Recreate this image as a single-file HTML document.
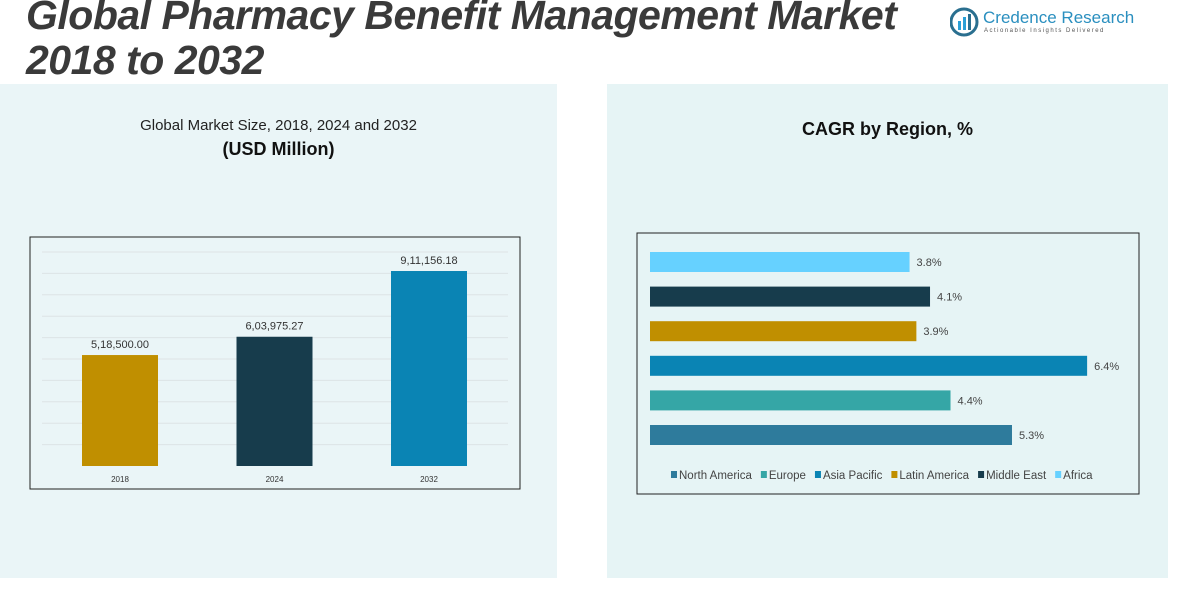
<!DOCTYPE html>
<html><head><meta charset="utf-8"><style>
body{margin:0;width:1187px;height:597px;background:#fff;position:relative;overflow:hidden;font-family:"Liberation Sans",sans-serif}
.abs{position:absolute}
</style></head><body>
<div class="abs" style="left:0;top:84px;width:557px;height:494px;background:#eaf5f7"></div>
<div class="abs" style="left:607px;top:84px;width:561px;height:494px;background:#e6f4f5"></div>
<div class="abs" style="left:26px;top:-7px;font-size:41px;font-weight:bold;font-style:italic;color:#3a3a3a;line-height:45px;letter-spacing:-0.5px;white-space:nowrap">Global Pharmacy Benefit Management Market<br>2018 to 2032</div>
<div class="abs" style="left:950px;top:7px;width:190px;height:30px">
<svg width="30" height="30" style="position:absolute;left:0;top:0"><circle cx="14" cy="15" r="13" fill="none" stroke="#2a6f8f" stroke-width="3"/><rect x="8" y="14" width="3" height="9" fill="#2a9fd6"/><rect x="13" y="10" width="3" height="13" fill="#2a9fd6"/><rect x="18" y="7" width="3" height="16" fill="#2a6f8f"/></svg>
<div style="position:absolute;left:33px;top:1px;font-size:17px;color:#2a8fbf;white-space:nowrap">Credence Research</div>
<div style="position:absolute;left:34px;top:21px;font-size:6px;letter-spacing:1.5px;color:#555;white-space:nowrap">Actionable Insights Delivered</div>
</div>
<div class="abs" style="left:0;width:557px;top:117px;text-align:center;font-size:15px;color:#222">Global Market Size, 2018, 2024 and 2032</div>
<div class="abs" style="left:0;width:557px;top:139px;text-align:center;font-size:18px;font-weight:bold;color:#111">(USD Million)</div>
<div class="abs" style="left:607px;width:561px;top:119px;text-align:center;font-size:18px;font-weight:bold;color:#111">CAGR by Region, %</div>
<svg class="abs" style="left:0;top:0" width="1187" height="597" id="ch">
<rect x="30" y="237" width="490" height="252" fill="none" stroke="#222" stroke-width="1"/>
<rect x="637" y="233" width="502" height="261" fill="none" stroke="#222" stroke-width="1"/>
<g id="lg"></g><g id="rg"></g>
</svg>
<script>
const years=["2018","2024","2032"];
const sizes=[518500.00,603975.27,911156.18];
const sizeLabels=["5,18,500.00","6,03,975.27","9,11,156.18"];
const yearColors=["#c08f00","#173c4c","#0a84b4"];
const regions=["Africa","Middle East","Latin America","Asia Pacific","Europe","North America"];
const cagr=[3.8,4.1,3.9,6.4,4.4,5.3];
const regionColors=["#66d1ff","#173c4c","#c08f00","#0a84b4","#35a6a6","#2e7b9c"];
const legendOrder=["North America","Europe","Asia Pacific","Latin America","Middle East","Africa"];
const NS="http://www.w3.org/2000/svg";
function mk(t,a,p){const e=document.createElementNS(NS,t);for(const k in a)e.setAttribute(k,a[k]);p.appendChild(e);return e;}
const lg=document.getElementById('lg'),rg=document.getElementById('rg');
const yMax=1000000,y0=466,ph=214;
const ys=v=>y0-v/yMax*ph;
for(let i=1;i<=10;i++){const g=mk('line',{x1:42,x2:508,y1:ys(i*100000),y2:ys(i*100000),stroke:'#dde3e6','stroke-width':1},lg);

}
const xs=i=>120+i*154.5;
years.forEach((y,i)=>{
const b=mk('rect',{x:xs(i)-38,y:ys(sizes[i]),width:76,height:y0-ys(sizes[i]),fill:yearColors[i]},lg);


const t=mk('text',{x:xs(i),y:ys(sizes[i])-7,'text-anchor':'middle','font-size':11,fill:'#333'},lg);t.textContent=sizeLabels[i];


const l=mk('text',{x:xs(i),y:482,'text-anchor':'middle','font-size':8,fill:'#333'},lg);l.textContent=y;


});
const xr=v=>650+v*68.3;
regions.forEach((r,i)=>{
const cy=262+i*34.6;
const b=mk('rect',{x:650,y:cy-10,width:xr(cagr[i])-650,height:20,fill:regionColors[i]},rg);


const t=mk('text',{x:xr(cagr[i])+7,y:cy+4,'font-size':11,fill:'#444'},rg);t.textContent=cagr[i]+'%';


});
let lx=671;
legendOrder.forEach(r=>{
const c=regionColors[regions.indexOf(r)];
const s=mk('rect',{x:lx,y:471,width:6,height:7,fill:c},rg);


const t=mk('text',{x:lx+8,y:479,'font-size':11.5,fill:'#444'},rg);t.textContent=r;


lx+=8+t.getComputedTextLength()+9;
});
</script>
</body></html>
